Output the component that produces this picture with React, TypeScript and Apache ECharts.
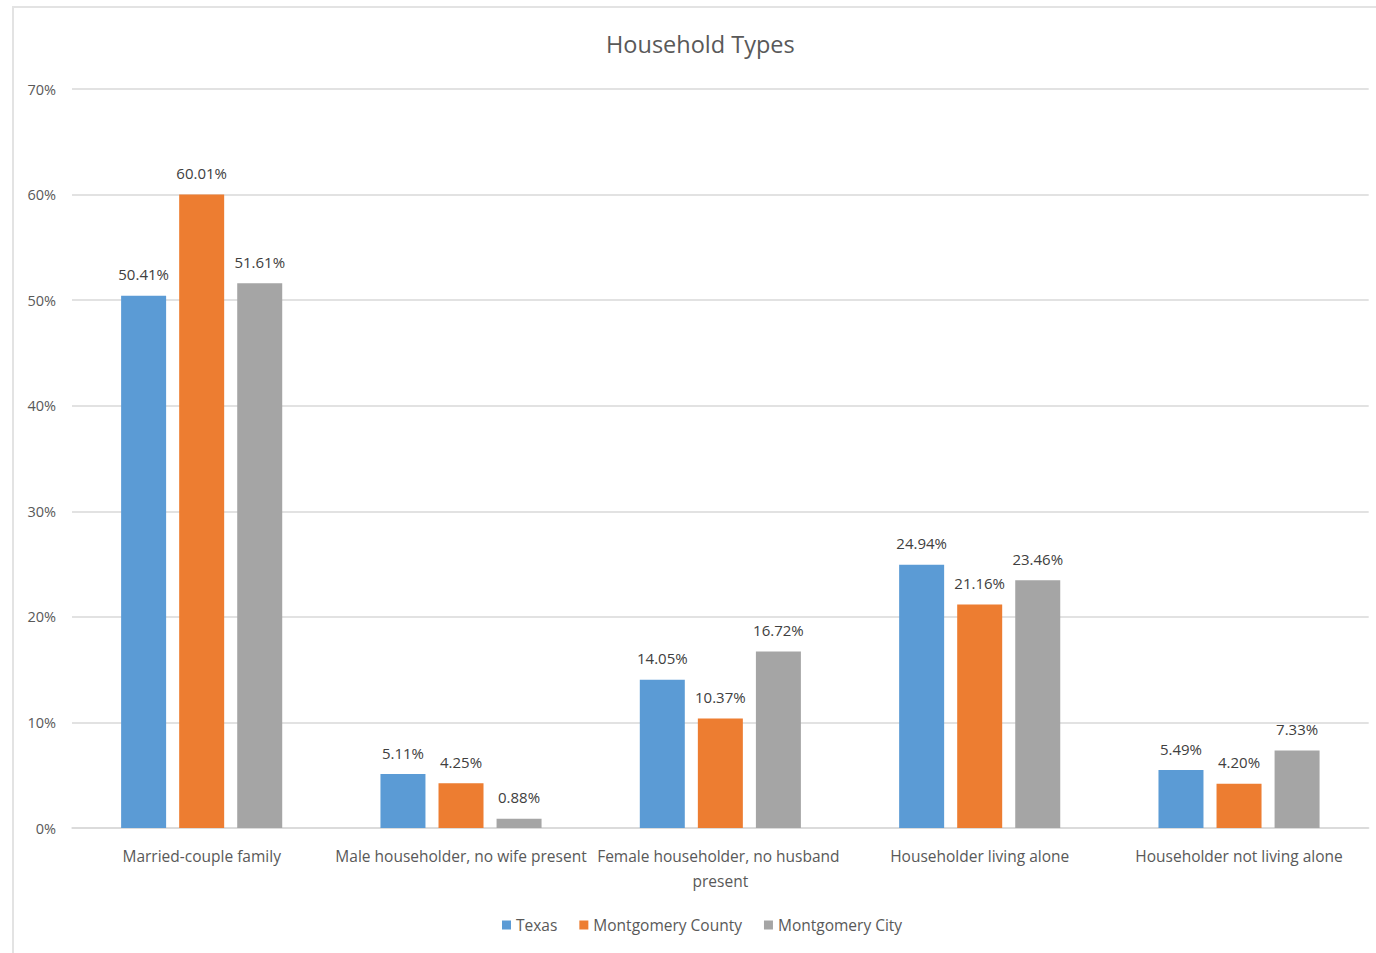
import React, { useEffect, useRef } from "react";
import * as echarts from "echarts";

const categories = [
  "Married-couple family",
  "Male householder, no wife present",
  "Female householder, no husband present",
  "Householder living alone",
  "Householder not living alone",
];
const texas = [50.41, 5.11, 14.05, 24.94, 5.49];
const montgomeryCounty = [60.01, 4.25, 10.37, 21.16, 4.2];
const montgomeryCity = [51.61, 0.88, 16.72, 23.46, 7.33];
const yTicks = [0, 10, 20, 30, 40, 50, 60, 70];

const FONT = "'Open Sans', 'Noto Sans', sans-serif";
const TEXT = "#595959";

export default function App() {
  const ref = useRef<HTMLDivElement>(null);

  useEffect(() => {
    if (!ref.current) return;
    const chart = echarts.init(ref.current, undefined, { renderer: "svg" });

    const bar = (name: string, data: number[], color: string) => ({
      name,
      type: "bar",
      data,
      barWidth: 45,
      barGap: "29%",
      itemStyle: { color },
      label: {
        show: true,
        position: "top",
        distance: 14,
        color: "#404040",
        fontFamily: FONT,
        fontSize: 15,
        formatter: (p: any) => `${p.value.toFixed(2)}%`,
      },
    });

    chart.setOption({
      animation: false,
      textStyle: { fontFamily: FONT },
      title: {
        text: "Household Types",
        left: 601,
        top: 27,
        textStyle: { fontFamily: FONT, fontSize: 23.5, fontWeight: "normal", color: TEXT },
      },
      graphic: [
        {
          type: "rect",
          shape: { x: 13, y: 7, width: 1400, height: 1000 },
          style: { fill: "none", stroke: "#e3e3e3", lineWidth: 2 },
          silent: true,
        },
      ],
      legend: {
        bottom: 15,
        left: 497,
        itemWidth: 9,
        itemHeight: 9,
        itemGap: 22,
        icon: "rect",
        textStyle: { fontFamily: FONT, fontSize: 15.5, color: TEXT },
        data: ["Texas", "Montgomery County", "Montgomery City"],
      },
      grid: { left: 72, right: 7, top: 89, bottom: 125, containLabel: false },
      xAxis: {
        type: "category",
        data: categories,
        axisTick: { show: false },
        axisLine: { lineStyle: { color: "#d9d9d9", width: 1.5 } },
        axisLabel: {
          color: TEXT,
          fontFamily: FONT,
          fontSize: 15.5,
          margin: 15,
          width: 268,
          overflow: "break",
          lineHeight: 25,
          interval: 0,
        },
      },
      yAxis: {
        type: "value",
        min: yTicks[0],
        max: yTicks[yTicks.length - 1],
        interval: 10,
        axisLine: { show: false },
        axisTick: { show: false },
        splitLine: { lineStyle: { color: "#d9d9d9", width: 1.5 } },
        axisLabel: {
          color: TEXT,
          fontFamily: FONT,
          fontSize: 14.5,
          margin: 16,
          formatter: "{value}%",
        },
      },
      series: [
        bar("Texas", texas, "#5B9BD5"),
        bar("Montgomery County", montgomeryCounty, "#ED7D31"),
        bar("Montgomery City", montgomeryCity, "#A5A5A5"),
      ],
    });

    return () => chart.dispose();
  }, []);

  return (
    <div
      ref={ref}
      style={{ position: "fixed", left: 0, top: 0, width: 1376, height: 953, background: "#fff" }}
    />
  );
}
